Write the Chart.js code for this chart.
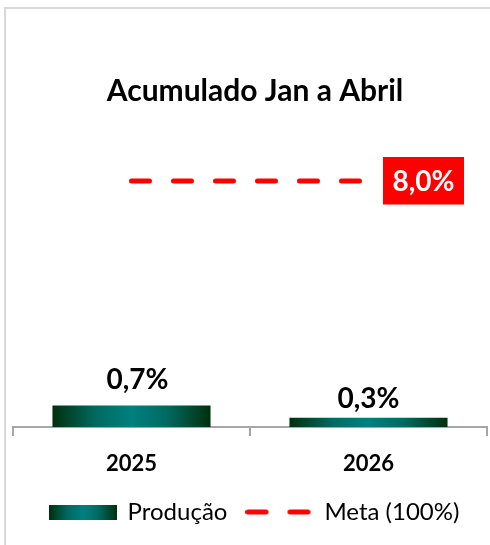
<!DOCTYPE html>
<html>
<head>
<meta charset="utf-8">
<script src="https://cdn.jsdelivr.net/npm/chart.js@4.4.1/dist/chart.umd.min.js"></script>
<style>
  html, body { margin: 0; padding: 0; background: #ffffff; }
  canvas { display: block; }
</style>
</head>
<body>
<canvas id="c" width="490" height="545"></canvas>
<script>
// ---- data ----
const categories = ['2025', '2026'];
const producao = [0.7, 0.3];
const meta = [8.0, 8.0];
const seriesLabels = ['Produção', 'Meta (100%)'];
const titleText = 'Acumulado Jan a Abril';

const FONT = 'Lato';
const DARK = '#00300c';
const MID = '#006b62';
const TEAL = '#008080';

function fmt(v) { return v.toFixed(1).replace('.', ',') + '%'; }

function tealGradient(ctx, x0, x1) {
  const g = ctx.createLinearGradient(x0, 0, x1, 0);
  g.addColorStop(0, DARK);
  g.addColorStop(0.28, MID);
  g.addColorStop(0.5, TEAL);
  g.addColorStop(0.72, MID);
  g.addColorStop(1, DARK);
  return g;
}

// legend images
const barImg = document.createElement('canvas');
barImg.width = 68; barImg.height = 15;
(function () {
  const c = barImg.getContext('2d');
  c.fillStyle = tealGradient(c, 0, 68);
  c.fillRect(0, 0, 68, 15);
})();
const lineImg = document.createElement('canvas');
lineImg.width = 69; lineImg.height = 8;
(function () {
  const c = lineImg.getContext('2d');
  c.strokeStyle = '#ff0000';
  c.lineWidth = 5;
  c.lineCap = 'round';
  c.beginPath();
  c.moveTo(2.5, 4); c.lineTo(20.5, 4);
  c.moveTo(44.5, 4); c.lineTo(62.5, 4);
  c.stroke();
})();

Chart.defaults.font.family = FONT;
Chart.defaults.color = '#000000';

const framePlugin = {
  id: 'frame',
  beforeDraw(chart) {
    const ctx = chart.ctx;
    ctx.save();
    ctx.fillStyle = '#ffffff';
    ctx.fillRect(0, 0, chart.width, chart.height);
    ctx.strokeStyle = '#d9d9d9';
    ctx.lineWidth = 2;
    ctx.beginPath();
    ctx.moveTo(5, chart.height);
    ctx.lineTo(5, 8);
    ctx.lineTo(chart.width, 8);
    ctx.stroke();
    ctx.restore();
  }
};

// nudge title and legend horizontally (the original is centred slightly right)
const nudgePlugin = {
  id: 'nudge',
  afterLayout(chart, args, opts) {
    if (chart.titleBlock) { chart.titleBlock.left += opts.title; chart.titleBlock.right += opts.title; }
    if (chart.legend) { chart.legend.left += opts.legend; chart.legend.right += opts.legend; }
  }
};

const labelPlugin = {
  id: 'valueLabels',
  afterDatasetsDraw(chart, args, opts) {
    const ctx = chart.ctx;
    ctx.save();
    const bm = chart.getDatasetMeta(0);
    ctx.font = 'bold 28px ' + FONT;
    ctx.fillStyle = '#000000';
    ctx.textAlign = 'center';
    ctx.textBaseline = 'alphabetic';
    bm.data.forEach((el, i) => {
      const v = chart.data.datasets[0].data[i];
      ctx.fillText(fmt(v), el.x + opts.dx[i], el.y - opts.dy[i]);
    });
    const lm = chart.getDatasetMeta(1);
    const last = lm.data.length - 1;
    const p = lm.data[last];
    const v = chart.data.datasets[1].data[last];
    const bx = p.x + 14.5, bw = 81, by = p.y - 24, bh = 47.5;
    ctx.fillStyle = '#ff0000';
    ctx.fillRect(bx, by, bw, bh);
    ctx.fillStyle = '#ffffff';
    ctx.fillText(fmt(v), bx + bw / 2, p.y + 10);
    ctx.restore();
  }
};

new Chart(document.getElementById('c'), {
  type: 'bar',
  data: {
    labels: categories,
    datasets: [
      {
        type: 'bar',
        label: seriesLabels[0],
        data: producao,
        backgroundColor: (ctx) => {
          const chart = ctx.chart;
          const area = chart.chartArea;
          if (!area || !chart.scales.x) return TEAL;
          const x = chart.scales.x.getPixelForValue(ctx.dataIndex);
          const half = (area.right - area.left) / chart.data.labels.length * 0.667 / 2;
          return tealGradient(chart.ctx, x - half, x + half);
        },
        borderWidth: 0,
        categoryPercentage: 1,
        barPercentage: 0.667
      },
      {
        type: 'line',
        label: seriesLabels[1],
        data: meta,
        borderColor: '#ff0000',
        borderWidth: 5,
        borderDash: [18, 24],
        borderCapStyle: 'round',
        pointRadius: 0,
        fill: false
      }
    ]
  },
  options: {
    responsive: false,
    animation: false,
    layout: { padding: { top: 0, left: 13, right: 3, bottom: 11 } },
    scales: {
      x: {
        grid: {
          drawOnChartArea: false,
          drawTicks: true,
          tickLength: 9,
          color: '#a6a6a6',
          lineWidth: 2
        },
        border: { display: true, color: '#a6a6a6', width: 2 },
        ticks: {
          font: { family: FONT, size: 22, weight: 'bold' },
          color: '#000000',
          padding: 15
        },
        afterFit(scale) { scale.height = 53; }
      },
      y: {
        display: false,
        min: 0,
        max: 10
      }
    },
    plugins: {
      title: {
        display: true,
        text: titleText,
        color: '#000000',
        font: { family: FONT, size: 30, weight: 'bold' },
        padding: { top: 73.5, bottom: 10 }
      },
      legend: {
        display: true,
        position: 'bottom',
        labels: {
          font: { family: FONT, size: 24 },
          color: '#000000',
          usePointStyle: true,
          pointStyleWidth: 65,
          padding: 20,
          generateLabels(chart) {
            return chart.data.datasets.map((ds, i) => ({
              text: ds.label,
              pointStyle: i === 0 ? barImg : lineImg,
              fillStyle: 'transparent',
              strokeStyle: 'transparent',
              lineWidth: 0,
              fontColor: '#000000',
              hidden: false,
              datasetIndex: i
            }));
          }
        }
      },
      tooltip: { enabled: false },
      valueLabels: { dx: [6, 0], dy: [16, 10] },
      nudge: { title: 5, legend: 5 }
    }
  },
  plugins: [framePlugin, nudgePlugin, labelPlugin]
});
</script>
</body>
</html>
